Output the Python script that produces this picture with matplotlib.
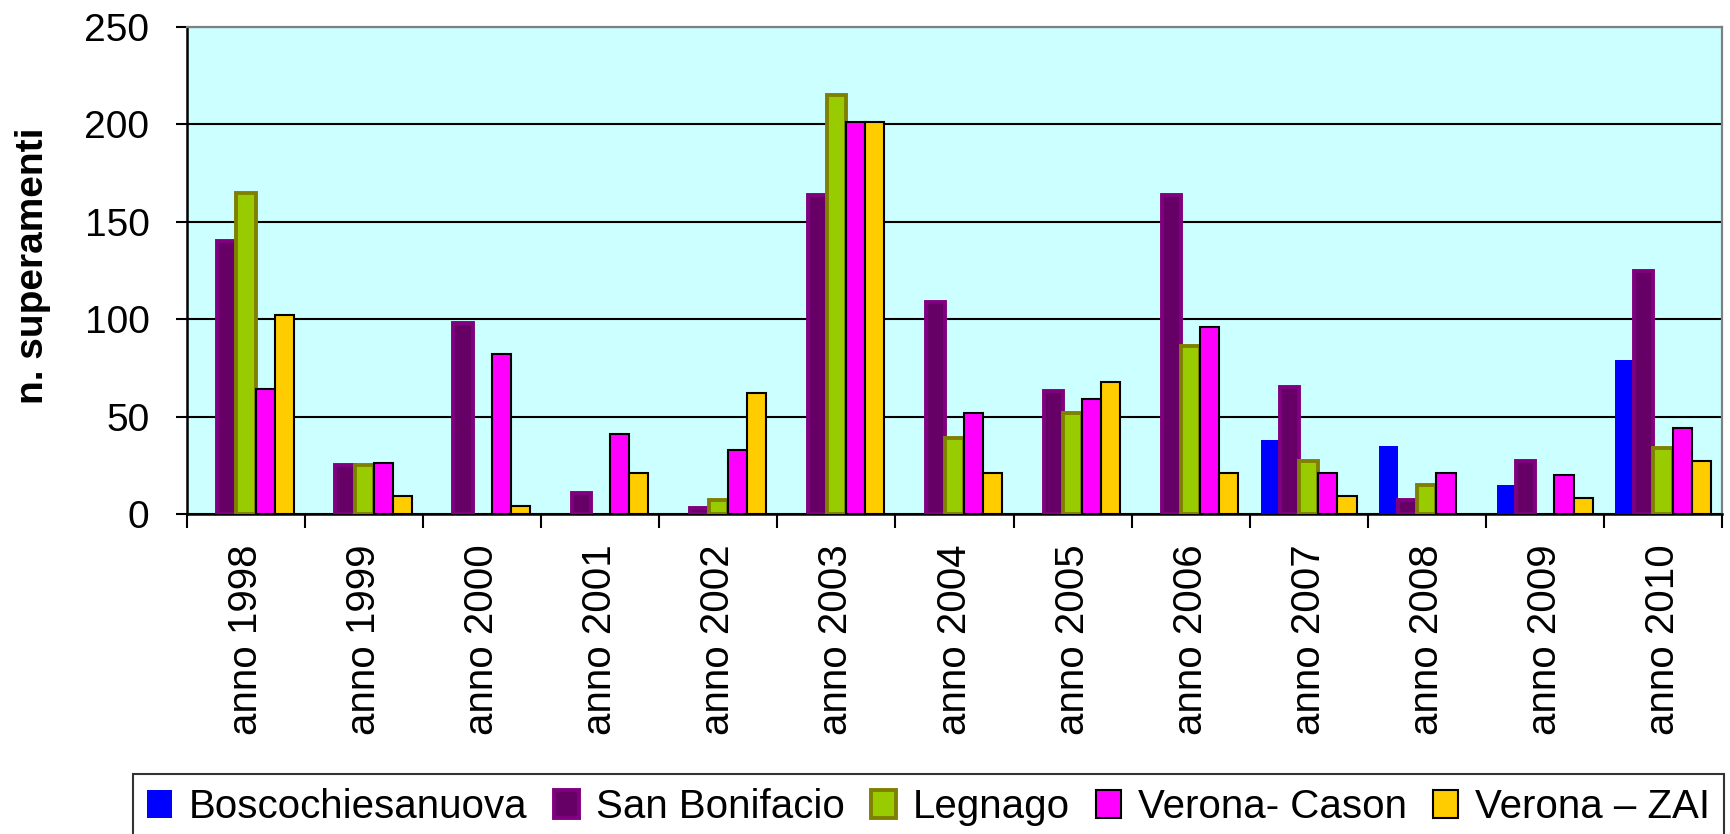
import numpy as np
import matplotlib
matplotlib.use("Agg")
import matplotlib.pyplot as plt
from matplotlib.ticker import FixedLocator

plt.rcParams['font.family'] = ['Liberation Sans', 'DejaVu Sans']

# Annual exceedance counts per monitoring station (None = no data)
years = ["anno 1998", "anno 1999", "anno 2000", "anno 2001", "anno 2002",
         "anno 2003", "anno 2004", "anno 2005", "anno 2006", "anno 2007",
         "anno 2008", "anno 2009", "anno 2010"]

boscochiesanuova = [None, None, None, None, None, None, None, None, None, 38, 35, 15, 79]
san_bonifacio = [140, 25, 98, 11, 3, 164, 109, 63, 164, 65, 7, 27, 125]
legnago = [165, 25, None, None, 7, 215, 39, 52, 86, 27, 15, None, 34]
verona_cason = [64, 26, 82, 41, 33, 201, 52, 59, 96, 21, 21, 20, 44]
verona_zai = [102, 9, 4, 21, 62, 201, 21, 68, 21, 9, None, 8, 27]

station_names = ["Boscochiesanuova", "San Bonifacio", "Legnago",
                 "Verona- Cason", "Verona \u2013 ZAI"]
station_values = [boscochiesanuova, san_bonifacio, legnago, verona_cason, verona_zai]

# face colour, edge colour, edge width (pt)
styles = [
    ("#0000FF", "#0000FF", 0.0),
    ("#660066", "#800080", 2.8),
    ("#99CC00", "#808000", 2.8),
    ("#FF00FF", "#000000", 1.5),
    ("#FFCC00", "#000000", 1.5),
]

W, H = 1730, 834
fig = plt.figure(figsize=(W / 100, H / 100), dpi=100)
left, right, top, bottom = 187, 1722, 27, 514
ax = fig.add_axes([left / W, 1 - bottom / H, (right - left) / W, (bottom - top) / H])
ax.set_facecolor("#CCFFFF")
ax.set_axisbelow(True)

bar_w = 0.162
n = len(station_names)
idx = np.arange(len(years))
handles = []
for j, (name, vals, (fc, ec, lw)) in enumerate(zip(station_names, station_values, styles)):
    xs = [i + (j - (n - 1) / 2) * bar_w for i, v in enumerate(vals) if v is not None]
    hs = [v for v in vals if v is not None]
    bc = ax.bar(xs, hs, width=bar_w, facecolor=fc, edgecolor=ec, linewidth=lw,
                label=name, zorder=3)
    handles.append(bc)

ax.set_xlim(-0.5, len(years) - 0.5)
ax.set_ylim(0, 250)
ax.set_yticks(np.arange(0, 251, 50))
ax.yaxis.grid(True, color="black", linewidth=1.5)
ax.tick_params(axis="y", labelsize=28, length=8, width=1.5, pad=19, direction="out")

# category labels at centres, tick marks at category boundaries
ax.set_xticks(idx)
ax.set_xticklabels(years, rotation=90, fontsize=29)
ax.xaxis.set_minor_locator(FixedLocator(np.arange(-0.5, len(years), 1.0)))
ax.tick_params(axis="x", which="major", length=0, pad=22)
ax.tick_params(axis="x", which="minor", length=10, width=1.5, direction="out")

for side in ("left", "bottom"):
    ax.spines[side].set_color("black")
    ax.spines[side].set_linewidth(1.8)
for side in ("top", "right"):
    ax.spines[side].set_color("#808080")
    ax.spines[side].set_linewidth(1.6)

fig.text(33 / W, 1 - 266 / H, "n. superamenti", rotation=90, ha="center",
         va="center", fontsize=28, fontweight="bold")

leg = fig.legend(handles=handles, labels=station_names, loc="upper left",
                 bbox_to_anchor=(133 / W, 1 - 774 / H), ncol=5, fontsize=29,
                 frameon=True, fancybox=False, shadow=False, borderaxespad=0,
                 borderpad=0.35, handlelength=0.62, handleheight=0.67,
                 handletextpad=0.42, columnspacing=0.65)
leg.get_frame().set_edgecolor("black")
leg.get_frame().set_linewidth(1.5)

fig.savefig("out.png", dpi=100)
